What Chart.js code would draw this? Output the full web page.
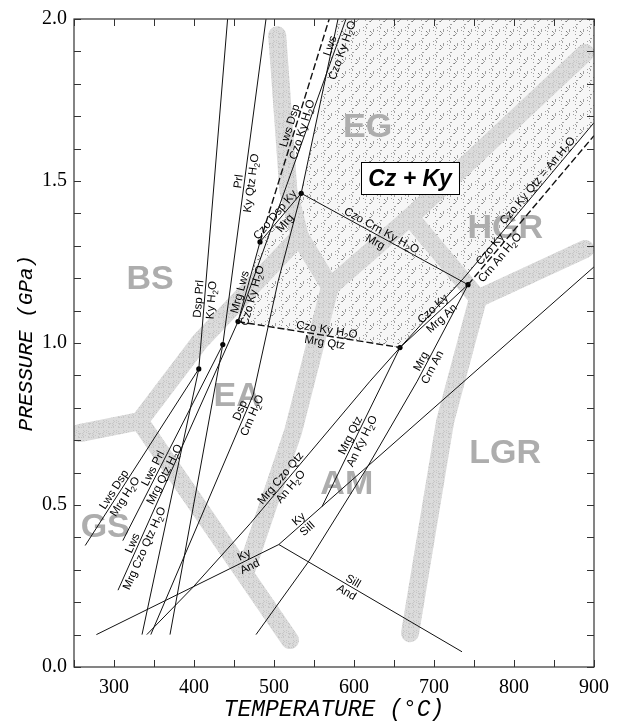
<!DOCTYPE html>
<html>
<head>
<meta charset="utf-8">
<script src="https://cdn.jsdelivr.net/npm/chart.js@4.4.1/dist/chart.umd.min.js"></script>
<style>
  html, body { margin: 0; padding: 0; background: #fff; }
</style>
</head>
<body>
<canvas id="chart" width="622" height="725"></canvas>
<script>
// axis ranges and tick labels
const tempRange = [250, 900];
const presRange = [0, 2];
const xTickLabels = [300, 400, 500, 600, 700, 800, 900];
const yTickLabels = [0, 0.5, 1.0, 1.5, 2.0];

// invariant points [T (°C), P (GPa)]
const ip1 = [406, 0.92];
const ip2 = [436, 0.995];
const ip3 = [455, 1.066];
const ip4 = [482.5, 1.312];
const ip5 = [657.5, 0.986];
const ip6 = [534, 1.462];
const ip7 = [742.5, 1.18];
const triple = [506, 0.378];

// reaction curves [T, P]
const kyAnd = [[278, 0.10], triple];
const sillAnd = [triple, [735, 0.047]];
const kySill = [triple, [900, 1.235]];
const lwsDspMrg = [[264, 0.375], ip1];
const dspPrlKy = [ip1, [442, 2.0]];
const prlKyQtz = [ip2, [490, 2.0]];
const lwsPrlMrg = [ip2, [311, 0.39]];
const lwsMrgCzoQtz = [ip3, [305, 0.237]];
const lowLine1 = [ip1, [335, 0.10]];
const lowLine2 = [ip2, [370, 0.10]];
const dspCrn = [[346, 0.10], [474, 0.84], [505, 1.189], ip6, [580, 2.0]];
const mrgLwsCzoKy = [ip3, ip4];
const lwsCzoKy = [ip3, [590, 2.0]];
const lwsDspCzoKy = [ip4, [569, 2.0]];
const czoDspKyMrg = [ip4, ip6];
const czoCrnKyMrg = [ip6, ip7];
const czoKyMrgQtz = [ip3, ip5];
const mrgCzoQtzAn = [[341, 0.10], [397.5, 0.243], [470, 0.442], [620, 0.882], ip5];
const mrgQtzAnKy = [ip5, [560, 0.495]];
const mrgCrnAn = [[477.5, 0.10], [542.5, 0.323], [616, 0.614], [679, 0.882], ip7];
const czoKyMrgAn = [ip5, ip7];
const czoKyCrnAn = [ip7, [900, 1.64]];
const czoKyQtzAn = [ip5, [737, 1.20], [900, 1.68]];

const solidCurves = [kyAnd, sillAnd, kySill, lwsDspMrg, dspPrlKy, prlKyQtz, lwsPrlMrg, lwsMrgCzoQtz,
  lowLine1, lowLine2, dspCrn, mrgLwsCzoKy, lwsCzoKy, czoDspKyMrg, czoCrnKyMrg, mrgCzoQtzAn,
  mrgQtzAnKy, mrgCrnAn, czoKyMrgAn, czoKyQtzAn];
const dashedCurves = [lwsDspCzoKy, czoKyMrgQtz, czoKyCrnAn];
const dots = [ip1, ip2, ip3, ip4, ip5, ip6, ip7];

// Cz + Ky field outline
const czKyField = [ip3, ip4, ip6, [580, 2.0], [900, 2.0], [900, 1.68], [737, 1.20], ip5];

// facies boundaries (broad grey bands)
const bandGS = [[257, 0.722], [332, 0.759], [520, 0.083]];
const bandBSEA = [[332, 0.759], [407.5, 1.005], [532, 1.33]];
const bandBSEG = [[532, 1.33], [518, 1.47], [504, 1.95]];
const bandEAEG = [[532, 1.33], [570, 1.174]];
const bandEGHGR = [[570, 1.174], [670, 1.389], [889, 1.895]];
const bandEAAM = [[570, 1.174], [524, 0.728], [464, 0.29]];
const bandHGRLGR = [[889, 1.29], [755, 1.137]];
const bandAMLGR = [[755, 1.137], [714, 0.759], [670, 0.104]];
const bandAMHGR = [[755, 1.137], [670, 1.389]];
const bands = [bandGS, bandBSEA, bandBSEG, bandEAEG, bandEGHGR, bandEAAM, bandHGRLGR, bandAMLGR, bandAMHGR];

// facies names
const faciesNames = ['EG', 'HGR', 'LGR', 'BS', 'EA', 'AM', 'GS'];
const faciesAt = [[617, 1.665], [789, 1.352], [789, 0.66], [345, 1.195], [454, 0.836], [591, 0.562], [289, 0.43]];

// reaction labels: [upper text, lower text, curve, near (T,P)]
const reactionLabels = [
  ['Dsp Prl', 'Ky H₂O', dspPrlKy, [414, 1.134]],
  ['Prl', 'Ky Qtz H₂O', prlKyQtz, [464, 1.496]],
  ['Lws Dsp', 'Mrg H₂O', lwsDspMrg, [306, 0.538]],
  ['Lws Prl', 'Mrg Qtz H₂O', lwsPrlMrg, [355, 0.605]],
  ['Lws', 'Mrg Czo Qtz H₂O', lwsMrgCzoQtz, [330, 0.375]],
  ['Mrg Lws', 'Czo Ky H₂O', mrgLwsCzoKy, [465, 1.152]],
  ['Lws Dsp', 'Czo Ky H₂O', lwsDspCzoKy, [527, 1.665]],
  ['Lws', 'Czo Ky H₂O', lwsCzoKy, [577, 1.911]],
  ['Czo Dsp Ky', 'Mrg', czoDspKyMrg, [506, 1.386]],
  ['Czo Crn Ky H₂O', 'Mrg', czoCrnKyMrg, [632, 1.336]],
  ['Czo Ky H₂O', 'Mrg Qtz', czoKyMrgQtz, [565, 1.026]],
  ['Czo Ky', 'Mrg An', czoKyMrgAn, [704, 1.091]],
  ['Czo Ky', 'Crn An H₂O', czoKyCrnAn, [777, 1.275]],
  ['Czo Ky Qtz = An H₂O', '', czoKyQtzAn, [832, 1.496]],
  ['Mrg', 'Crn An', mrgCrnAn, [691, 0.934]],
  ['Mrg Qtz', 'An Ky H₂O', mrgQtzAnKy, [602, 0.707]],
  ['Mrg Czo Qtz', 'An H₂O', mrgCzoQtzAn, [514, 0.571]],
  ['Ky', 'Sill', kySill, [536, 0.442]],
  ['Ky', 'And', kyAnd, [466, 0.329]],
  ['Sill', 'And', sillAnd, [595, 0.249]],
  ['Dsp', 'Crn H₂O', dspCrn, [469, 0.78]]
];
const fieldName = 'Cz + Ky';
const fieldNameAt = [670, 1.508];

const toXY = pts => pts.map(([x, y]) => ({x, y}));

function makeStipple(size, bg, dot, n, seed) {
  const c = document.createElement('canvas');
  c.width = c.height = size;
  const g = c.getContext('2d');
  if (bg) { g.fillStyle = bg; g.fillRect(0, 0, size, size); }
  g.fillStyle = dot;
  let s = seed;
  const next = () => { s = (s * 9301 + 49297) % 233280; return s / 233280; };
  for (let i = 0; i < n; i++) g.fillRect(Math.floor(next() * size), Math.floor(next() * size), 1, 1);
  return c;
}

function px(chart, p) {
  return [chart.scales.x.getPixelForValue(p[0]), chart.scales.y.getPixelForValue(p[1])];
}

function tracePath(ctx, chart, pts) {
  pts.forEach((p, i) => {
    const [x, y] = px(chart, p);
    if (i === 0) ctx.moveTo(x, y); else ctx.lineTo(x, y);
  });
}

const labelFont = '11.5px "Liberation Sans", Arial, sans-serif';
const subFont = '8px "Liberation Sans", Arial, sans-serif';

function richParts(s) {
  return s.split(/(₂)/).filter(t => t.length);
}
function richWidth(ctx, s) {
  let w = 0;
  for (const t of richParts(s)) {
    ctx.font = t === '₂' ? subFont : labelFont;
    w += ctx.measureText(t === '₂' ? '2' : t).width;
  }
  ctx.font = labelFont;
  return w;
}
function drawRich(ctx, s, x, y) {
  let cx = x;
  for (const t of richParts(s)) {
    if (t === '₂') {
      ctx.font = subFont;
      ctx.fillText('2', cx, y + 2.5);
      cx += ctx.measureText('2').width;
    } else {
      ctx.font = labelFont;
      ctx.fillText(t, cx, y);
      cx += ctx.measureText(t).width;
    }
  }
  ctx.font = labelFont;
}

const backPlugin = {
  id: 'back',
  beforeDatasetsDraw(chart) {
    const {ctx, chartArea: a} = chart;
    ctx.save();
    ctx.beginPath();
    ctx.rect(a.left, a.top, a.right - a.left, a.bottom - a.top);
    ctx.clip();

    // stippled Cz + Ky field
    const dotsTile = ctx.createPattern(makeStipple(14, null, 'rgba(90,90,90,0.55)', 20, 7), 'repeat');
    ctx.beginPath();
    tracePath(ctx, chart, czKyField);
    ctx.closePath();
    ctx.fillStyle = '#f6f6f6';
    ctx.fill();
    ctx.fillStyle = dotsTile;
    ctx.fill();

    // facies bands
    const bandTile = ctx.createPattern(makeStipple(10, '#dbdbdb', '#c6c6c6', 20, 3), 'repeat');
    ctx.strokeStyle = bandTile;
    ctx.lineWidth = 18;
    ctx.lineCap = 'round';
    ctx.lineJoin = 'round';
    bands.forEach(b => {
      ctx.beginPath();
      tracePath(ctx, chart, b);
      ctx.stroke();
    });

    // facies names
    ctx.font = 'bold 34px "Liberation Sans", Arial, sans-serif';
    ctx.textAlign = 'center';
    ctx.textBaseline = 'middle';
    ctx.fillStyle = '#adadad';
    faciesNames.forEach((n, i) => {
      const [x, y] = px(chart, faciesAt[i]);
      ctx.fillText(n, x, y);
    });
    ctx.restore();
  }
};

const frontPlugin = {
  id: 'front',
  afterDatasetsDraw(chart) {
    const {ctx, chartArea: a, scales: {x: sx, y: sy}} = chart;
    ctx.save();

    // reaction labels set along their curves
    ctx.fillStyle = '#000';
    ctx.textBaseline = 'alphabetic';
    ctx.textAlign = 'left';
    reactionLabels.forEach(([up, low, curve, near]) => {
      const pts = curve.map(p => px(chart, p));
      const [nx, ny] = px(chart, near);
      let best = null;
      for (let i = 0; i < pts.length - 1; i++) {
        const [x1, y1] = pts[i], [x2, y2] = pts[i + 1];
        const dx = x2 - x1, dy = y2 - y1;
        let t = ((nx - x1) * dx + (ny - y1) * dy) / (dx * dx + dy * dy);
        t = Math.max(0, Math.min(1, t));
        const qx = x1 + t * dx, qy = y1 + t * dy;
        const d = (qx - nx) ** 2 + (qy - ny) ** 2;
        if (!best || d < best.d) best = {d, qx, qy, ang: Math.atan2(dy, dx)};
      }
      let ang = best.ang;
      if (ang > Math.PI / 2) ang -= Math.PI;
      if (ang < -Math.PI / 2) ang += Math.PI;
      ctx.save();
      ctx.translate(best.qx, best.qy);
      ctx.rotate(ang);
      ctx.font = labelFont;
      drawRich(ctx, up, -richWidth(ctx, up) / 2, -2.5);
      if (low) drawRich(ctx, low, -richWidth(ctx, low) / 2, 10.5);
      ctx.restore();
    });

    // field name box
    const [bx, by] = px(chart, fieldNameAt);
    ctx.font = 'italic bold 23px "Liberation Sans", Arial, sans-serif';
    const tw = ctx.measureText(fieldName).width;
    const bw = tw + 14, bh = 32;
    ctx.fillStyle = '#fff';
    ctx.fillRect(bx - bw / 2, by - bh / 2, bw, bh);
    ctx.strokeStyle = '#000';
    ctx.lineWidth = 1;
    ctx.strokeRect(Math.round(bx - bw / 2) + 0.5, Math.round(by - bh / 2) + 0.5, Math.round(bw), bh);
    ctx.fillStyle = '#000';
    ctx.textAlign = 'center';
    ctx.textBaseline = 'middle';
    ctx.fillText(fieldName, bx, by + 1);

    // frame and inward ticks on all four sides
    ctx.strokeStyle = '#333';
    ctx.lineWidth = 1.2;
    ctx.strokeRect(a.left, a.top, a.right - a.left, a.bottom - a.top);
    ctx.lineWidth = 1;
    ctx.beginPath();
    sx.ticks.forEach(t => {
      const x = Math.round(sx.getPixelForValue(t.value)) + 0.5;
      ctx.moveTo(x, a.bottom); ctx.lineTo(x, a.bottom - 7);
      ctx.moveTo(x, a.top); ctx.lineTo(x, a.top + 7);
    });
    sy.ticks.forEach(t => {
      const y = Math.round(sy.getPixelForValue(t.value)) + 0.5;
      ctx.moveTo(a.left, y); ctx.lineTo(a.left + 7, y);
      ctx.moveTo(a.right, y); ctx.lineTo(a.right - 7, y);
    });
    ctx.stroke();
    ctx.restore();
  }
};

const datasets = [];
solidCurves.forEach(c => datasets.push({data: toXY(c), showLine: true, borderColor: '#111', borderWidth: 1, pointRadius: 0, fill: false}));
dashedCurves.forEach(c => datasets.push({data: toXY(c), showLine: true, borderColor: '#111', borderWidth: 1.4, borderDash: [7, 3], pointRadius: 0, fill: false}));
datasets.push({data: toXY(dots), showLine: false, pointRadius: 2.6, pointBackgroundColor: '#000', pointBorderWidth: 0});

const tickFont = {family: '"Liberation Serif", "Times New Roman", serif', size: 20};
const titleFont = {family: '"Liberation Mono", "Courier New", monospace', style: 'italic', size: 23};

new Chart(document.getElementById('chart'), {
  type: 'scatter',
  data: {datasets},
  options: {
    responsive: false,
    animation: false,
    devicePixelRatio: 1,
    layout: {padding: {top: 16, right: 28, left: 0, bottom: 0}},
    plugins: {legend: {display: false}, tooltip: {enabled: false}},
    scales: {
      x: {
        type: 'linear', min: tempRange[0], max: tempRange[1],
        afterFit: s => { s.height = 58; },
        grid: {display: false, drawTicks: false},
        border: {display: false},
        ticks: {
          stepSize: 50, autoSkip: false, maxRotation: 0, padding: 9, color: '#000', font: tickFont,
          callback: v => xTickLabels.includes(v) ? String(v) : ''
        },
        title: {display: true, text: 'TEMPERATURE (°C)', color: '#000', font: titleFont, padding: {top: 0, bottom: 1}}
      },
      y: {
        type: 'linear', min: presRange[0], max: presRange[1],
        afterFit: s => { s.width = 74; },
        grid: {display: false, drawTicks: false},
        border: {display: false},
        ticks: {
          stepSize: 0.1, autoSkip: false, padding: 7, color: '#000', font: tickFont,
          callback: v => {
            const r = Math.round(v * 10) / 10;
            return yTickLabels.some(t => Math.abs(t - r) < 1e-6) ? r.toFixed(1) : '';
          }
        },
        title: {display: true, text: 'PRESSURE (GPa)', color: '#000', font: {...titleFont, size: 21}, padding: {top: 14, bottom: 0}}
      }
    }
  },
  plugins: [backPlugin, frontPlugin]
});
</script>
</body>
</html>
